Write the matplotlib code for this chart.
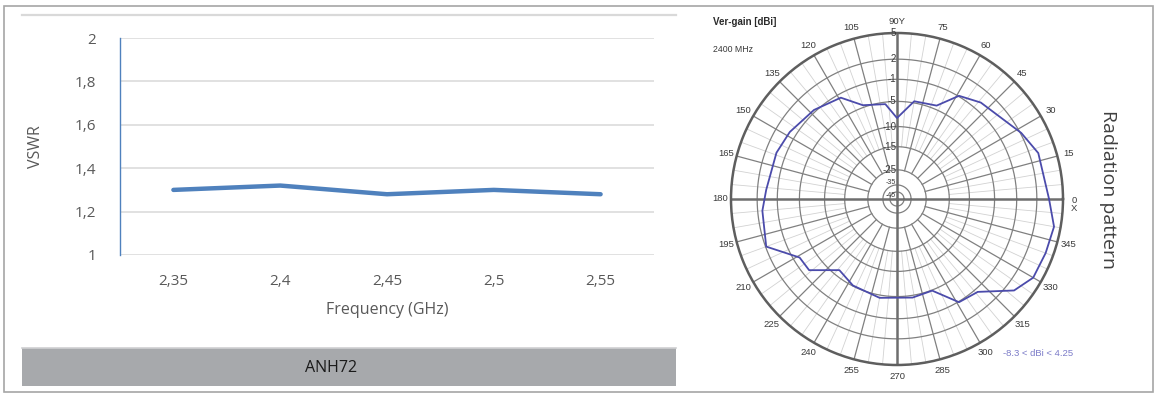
import numpy as np
import matplotlib
matplotlib.use('Agg')
import matplotlib.pyplot as plt
from matplotlib.patches import Rectangle
from matplotlib.lines import Line2D

# VSWR data
freq_labels = ['2,35', '2,4', '2,45', '2,5', '2,55']
vswr = [1.30, 1.32, 1.28, 1.30, 1.28]
vswr_ticks = [1.0, 1.2, 1.4, 1.6, 1.8, 2.0]
vswr_tick_labels = ['1', '1,2', '1,4', '1,6', '1,8', '2']

# radiation pattern (vertical gain, dBi)
pattern_deg = [0, 18, 28, 49, 59, 67, 80, 90, 97, 110, 119, 133, 148, 159, 176,
               185, 200, 211, 219, 231, 243, 260, 279, 291, 301, 311, 322, 330,
               340, 350, 360]
gain_dbi = [3.4, 3.0, 2.1, 0.2, -0.9, -4.3, -4.7, -8.3, -5.4, -4.6, -1.7, -0.7,
            0.0, 0.4, 0.7, 1.3, 1.9, -2.1, -2.2, -6.2, -5.1, -4.5, -4.6, -4.9,
            -0.9, -0.5, 3.0, 4.0, 4.1, 4.25, 3.4]

# rings of the polar chart (non linear radial scale)
ring_db = [-45, -35, -25, -15, -10, -5, -1, 2, 5]
ring_labels = ['-45', '-35', '-25', '-15', '-10', '-5', '-1', '2', '5']
scale_db = [-55, -45, -35, -25, -15, -10, -5, -1, 2, 5]
scale_r = [0, 7, 14, 29, 52, 72, 97, 119, 139, 165]

W, H = 1157, 394


def fx(px):
    return px / W


def fy(py):
    return 1 - py / H


def fwd(v):
    return np.interp(v, scale_db, scale_r)


def inv(r):
    return np.interp(r, scale_r, scale_db)


fig = plt.figure(figsize=(W / 100, H / 100), dpi=100)
fig.patch.set_facecolor('white')

# frame, header line and name bar
fig.patches.append(Rectangle((fx(4), fy(392)), fx(1153) - fx(4), fy(6) - fy(392),
                             transform=fig.transFigure, fill=False,
                             ec='#a6a6a6', lw=1.2))
fig.lines.append(Line2D([fx(22), fx(676)], [fy(15), fy(15)],
                        transform=fig.transFigure, color='#d9d9d9', lw=1.6))
fig.patches.append(Rectangle((fx(22), fy(386)), fx(676) - fx(22), fy(348) - fy(386),
                             transform=fig.transFigure, fc='#a7a9ac', ec='none'))
fig.lines.append(Line2D([fx(22), fx(676)], [fy(348), fy(348)],
                        transform=fig.transFigure, color='#cfd0d2', lw=1.2))
fig.text(fx(331), fy(368), 'ANH72', ha='center', va='center', fontsize=11.5,
         family='Open Sans', color='#1a1a1a')

# ---- VSWR chart ----
ax = fig.add_axes([fx(120), fy(255), fx(654) - fx(120), fy(38) - fy(255)])
x = np.arange(len(freq_labels))
ax.plot(x, vswr, color='#4f81bd', lw=3.2, solid_capstyle='round', zorder=3)
ax.set_xlim(-0.5, len(freq_labels) - 0.5)
ax.set_ylim(1, 2)
ax.set_yticks(vswr_ticks)
ax.set_yticklabels(vswr_tick_labels)
ax.set_xticks(x)
ax.set_xticklabels(freq_labels)
for v in vswr_ticks:
    ax.axhline(v, color='#d9d9d9', lw=1.1, zorder=1)
for s in ['top', 'right', 'bottom']:
    ax.spines[s].set_visible(False)
ax.spines['left'].set_color('#4f81bd')
ax.spines['left'].set_linewidth(1.0)
ax.tick_params(length=0, colors='#595959', labelsize=11)
ax.tick_params(axis='y', pad=17)
ax.tick_params(axis='x', pad=14)
for lab in ax.get_xticklabels() + ax.get_yticklabels():
    lab.set_family('Open Sans')
ax.set_xlabel('Frequency (GHz)', fontsize=11.5, color='#595959',
              family='Open Sans', labelpad=9)
ax.set_ylabel('VSWR', fontsize=11.5, color='#595959', family='Open Sans',
              labelpad=22)

# ---- polar radiation pattern ----
pax = fig.add_axes([fx(731), fy(365), 332 / W, 332 / H], projection='polar')
pax.set_rscale('function', functions=(fwd, inv))
pax.set_xticks([])
pax.set_yticks([])
pax.grid(False)

full = np.linspace(0, 2 * np.pi, 361)
for v in ring_db[:-1]:
    pax.plot(full, np.full_like(full, v), color='#808080', lw=0.9, zorder=1)
for d in range(0, 360, 5):
    t = np.deg2rad(d)
    if d % 90 == 0:
        pax.plot([t, t], [-55, 5], color='#6e6e6e', lw=1.8, zorder=2)
    elif d % 15 == 0:
        pax.plot([t, t], [-25, 5], color='#808080', lw=0.9, zorder=1)
    else:
        pax.plot([t, t], [-15, 5], color='#d2d2d2', lw=0.6, zorder=0)

pax.plot(np.deg2rad(pattern_deg), gain_dbi, color='#4b4bab', lw=1.3, zorder=4)
pax.set_rlim(-55, 5)
pax.spines['polar'].set_color('#5e5e5e')
pax.spines['polar'].set_linewidth(1.8)

for v, lab in zip(ring_db, ring_labels):
    size, dy = 7, 0
    if v == -35:
        size, dy = 5, 1.5
    elif v == -45:
        size, dy = 5, -2.5
    pax.annotate(lab, xy=(np.pi / 2, v), xytext=(-0.5, dy), textcoords='offset points',
                 ha='right', va='center', fontsize=size, color='#3a3a3a',
                 family='Liberation Sans', zorder=5)

for d in range(0, 360, 15):
    t = np.deg2rad(d)
    lab = str(d)
    dy = 0
    if d == 0:
        lab = '0\nX'
        dy = -4
    elif d == 90:
        lab = '90Y'
    off = 8
    pax.annotate(lab, xy=(t, 5), xytext=(off * np.cos(t), off * np.sin(t) + dy),
                 textcoords='offset points', ha='center', va='center',
                 fontsize=6.8, color='#3a3a3a', family='Liberation Sans',
                 linespacing=0.85, annotation_clip=False)

fig.text(fx(713), fy(22), 'Ver-gain [dBi]', ha='left', va='center', fontsize=7,
         fontweight='bold', color='#2a2a2a', family='Liberation Sans')
fig.text(fx(713), fy(50), '2400 MHz', ha='left', va='center', fontsize=6.3,
         color='#3a3a3a', family='Liberation Sans')
fig.text(fx(1003), fy(354), '-8.3 < dBi < 4.25', ha='left', va='center',
         fontsize=6.8, color='#7b7bc8', family='Liberation Sans')

fig.text(fx(1108), fy(190), 'Radiation pattern', ha='center', va='center',
         rotation=270, fontsize=14, color='#404040', family='Open Sans')

plt.savefig('out.png', dpi=100)
